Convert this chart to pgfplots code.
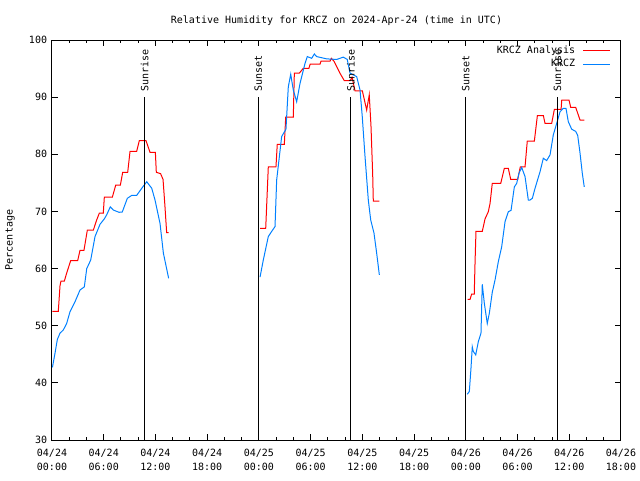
\documentclass[border=0pt]{standalone}
\usepackage{pgfplots}
\pgfplotsset{compat=1.18}
\usepackage{fontspec}
\setmainfont{DejaVu Sans Mono}
\definecolor{kred}{RGB}{255,0,0}
\definecolor{kblue}{RGB}{0,128,255}
\newcommand{\gfont}{\fontsize{7.5}{10.5}\selectfont}
\begin{document}
\begin{tikzpicture}
\useasboundingbox (-39pt,-30pt) rectangle (441pt,330pt);
\begin{axis}[
  scale only axis, width=426.75pt, height=300pt,
  xmin=0, xmax=66, ymin=30, ymax=100,
  xtick={0,6,...,66},
  xticklabels={04/24\\00:00,04/24\\06:00,04/24\\12:00,04/24\\18:00,04/25\\00:00,04/25\\06:00,04/25\\12:00,04/25\\18:00,04/26\\00:00,04/26\\06:00,04/26\\12:00,04/26\\18:00},
  minor x tick num=2,
  ytick={30,40,...,100},
  tick align=inside,
  major tick length=4.5pt, minor tick length=2.5pt,
  tick style={black, line width=0.75pt},
  axis line style={line width=0.75pt},
  every axis/.append style={line width=0.75pt},
  xticklabel style={align=center, font=\gfont, yshift=-3pt},
  yticklabel style={font=\gfont},
  /pgf/number format/assume math mode=true,
  title={Relative Humidity for KRCZ on 2024-Apr-24 (time in UTC)},
  title style={font=\gfont, at={(axis description cs:0.5,1)}, anchor=center, yshift=8.25pt},
  ylabel={Percentage},
  ylabel style={font=\gfont, at={(axis description cs:-0.0738,0.5)}, anchor=center},
  unbounded coords=jump,
  legend cell align=right,
  legend plot pos=right,
  legend image code/.code={\path (0pt,0pt); \draw[#1] (3.75pt,0pt) -- (23.75pt,0pt);},
  legend style={at={(axis description cs:1,1)}, anchor=north east, draw=none, fill=none,
    font=\gfont, xshift=-4.5pt, yshift=0pt, row sep=-1pt},
]
\addplot[kred, line width=0.75pt] coordinates {
(0.05,52.5) (0.73,52.5) (0.93,57.0) (1.04,57.8) (1.43,57.8) (1.7,59.2) (2.17,61.4) (2.98,61.4)
(3.25,63.2) (3.71,63.2) (4.1,66.75) (4.8,66.75) (5.18,68.5) (5.49,69.7) (5.95,69.7) (6.07,72.5)
(7.0,72.5) (7.39,74.6) (7.93,74.6) (8.2,76.85) (8.78,76.85) (9.05,80.5) (9.82,80.5) (10.13,82.4)
(10.9,82.4) (11.37,80.35) (11.99,80.35) (12.1,76.85) (12.6,76.6) (12.88,75.6) (13.1,70.95)
(13.3,66.3) (13.53,66.3)
(20,nan)
(24.13,67.05) (24.79,67.05) (25.09,77.8) (25.98,77.8) (26.13,81.75) (26.95,81.75) (27.11,86.5)
(27.99,86.5) (28.11,94.2) (28.69,94.2) (29.15,95.05) (29.8,95.05) (29.95,95.8) (31.1,95.8)
(31.2,96.3) (32.25,96.3) (32.4,96.8) (32.7,96.3) (33.4,94.2) (33.9,92.9) (34.6,92.9) (34.8,93.5)
(35.15,91.1) (36.0,91.1) (36.5,87.75) (36.8,90.4) (37.0,85.0) (37.2,76.4) (37.27,71.8) (37.97,71.8)
(44,nan)
(48.22,54.6) (48.49,54.6) (48.68,55.55) (48.98,55.55) (49.07,61.0) (49.18,66.5) (49.91,66.5)
(50.23,68.7) (50.61,69.95) (50.81,71.4) (51.07,74.9) (52.05,74.9) (52.47,77.55) (52.93,77.55)
(53.21,75.6) (54.02,75.6) (54.32,77.8) (54.87,77.8) (55.13,82.3) (55.95,82.3) (56.3,86.75)
(57.0,86.75) (57.19,85.4) (57.96,85.4) (58.27,87.85) (59.05,87.85) (59.13,89.5) (59.97,89.5)
(60.17,88.2) (60.75,88.2) (61.25,86.0) (61.74,86.0)
};
\addlegendentry{KRCZ Analysis}
\addplot[kblue, line width=0.75pt] coordinates {
(0.05,42.7) (0.35,45.2) (0.62,47.6) (0.93,48.7) (1.31,49.25) (1.7,50.4) (2.09,52.45) (2.67,54.2)
(3.25,56.25) (3.75,56.8) (4.03,60.0) (4.49,61.5) (4.99,65.6) (5.57,67.75) (6.07,68.7) (6.34,69.4)
(6.76,70.8) (7.11,70.25) (7.77,69.85) (8.15,69.9) (8.74,72.3) (9.24,72.8) (9.82,72.8) (10.41,74.05)
(10.99,75.2) (11.57,74.05) (11.95,72.0) (12.53,67.9) (12.92,62.7) (13.53,58.3)
(20,nan)
(24.13,58.5) (24.51,61.5) (25.09,65.6) (25.48,66.5) (25.87,67.35) (26.06,75.5) (26.64,83.1)
(27.14,84.4) (27.41,91.8) (27.69,94.0) (27.99,91.25) (28.38,89.2) (28.77,92.4) (29.35,95.9)
(29.61,97.1) (30.12,96.8) (30.43,97.55) (30.7,97.1) (31.86,96.7) (33.02,96.6) (33.79,97.0)
(34.25,96.6) (34.57,94.2) (35.34,93.6) (35.73,91.25) (35.99,86.6) (36.31,79.6) (36.69,72.0)
(36.97,68.5) (37.35,66.2) (37.66,62.7) (37.97,58.9)
(44,nan)
(48.17,38.0) (48.41,38.5) (48.6,42.55) (48.75,46.3) (48.87,45.5) (49.15,44.9) (49.45,47.2)
(49.76,48.7) (49.91,57.25) (50.15,53.9) (50.49,50.4) (50.73,52.2) (51.07,55.85) (51.39,58.0)
(51.77,61.2) (52.16,63.8) (52.55,68.2) (52.93,69.95) (53.25,70.2) (53.63,74.3) (53.9,74.9)
(54.17,76.7) (54.48,77.7) (54.87,76.1) (55.25,72.0) (55.45,72.0) (55.72,72.3) (56.03,74.05)
(56.61,76.95) (56.99,79.3) (57.38,78.9) (57.77,79.9) (58.15,83.4) (58.54,85.4) (58.93,87.45)
(59.31,88.05) (59.62,88.05) (59.89,85.7) (60.28,84.4) (60.75,84.0) (60.98,83.3) (61.25,80.2)
(61.51,76.7) (61.74,74.3)
};
\addlegendentry{KRCZ}
\addplot[black, line width=0.75pt, forget plot] coordinates {(10.75,30) (10.75,90)};
\addplot[black, line width=0.75pt, forget plot] coordinates {(23.93,30) (23.93,90)};
\addplot[black, line width=0.75pt, forget plot] coordinates {(34.68,30) (34.68,90)};
\addplot[black, line width=0.75pt, forget plot] coordinates {(47.98,30) (47.98,90)};
\addplot[black, line width=0.75pt, forget plot] coordinates {(58.62,30) (58.62,90)};
\node[rotate=90, anchor=west, inner sep=0pt, font=\gfont] at ([yshift=3.5pt]axis cs:10.75,90) {Sunrise};
\node[rotate=90, anchor=west, inner sep=0pt, font=\gfont] at ([yshift=3.5pt]axis cs:23.93,90) {Sunset};
\node[rotate=90, anchor=west, inner sep=0pt, font=\gfont] at ([yshift=3.5pt]axis cs:34.68,90) {Sunrise};
\node[rotate=90, anchor=west, inner sep=0pt, font=\gfont] at ([yshift=3.5pt]axis cs:47.98,90) {Sunset};
\node[rotate=90, anchor=west, inner sep=0pt, font=\gfont] at ([yshift=3.5pt]axis cs:58.62,90) {Sunrise};
\end{axis}
\end{tikzpicture}
\end{document}
